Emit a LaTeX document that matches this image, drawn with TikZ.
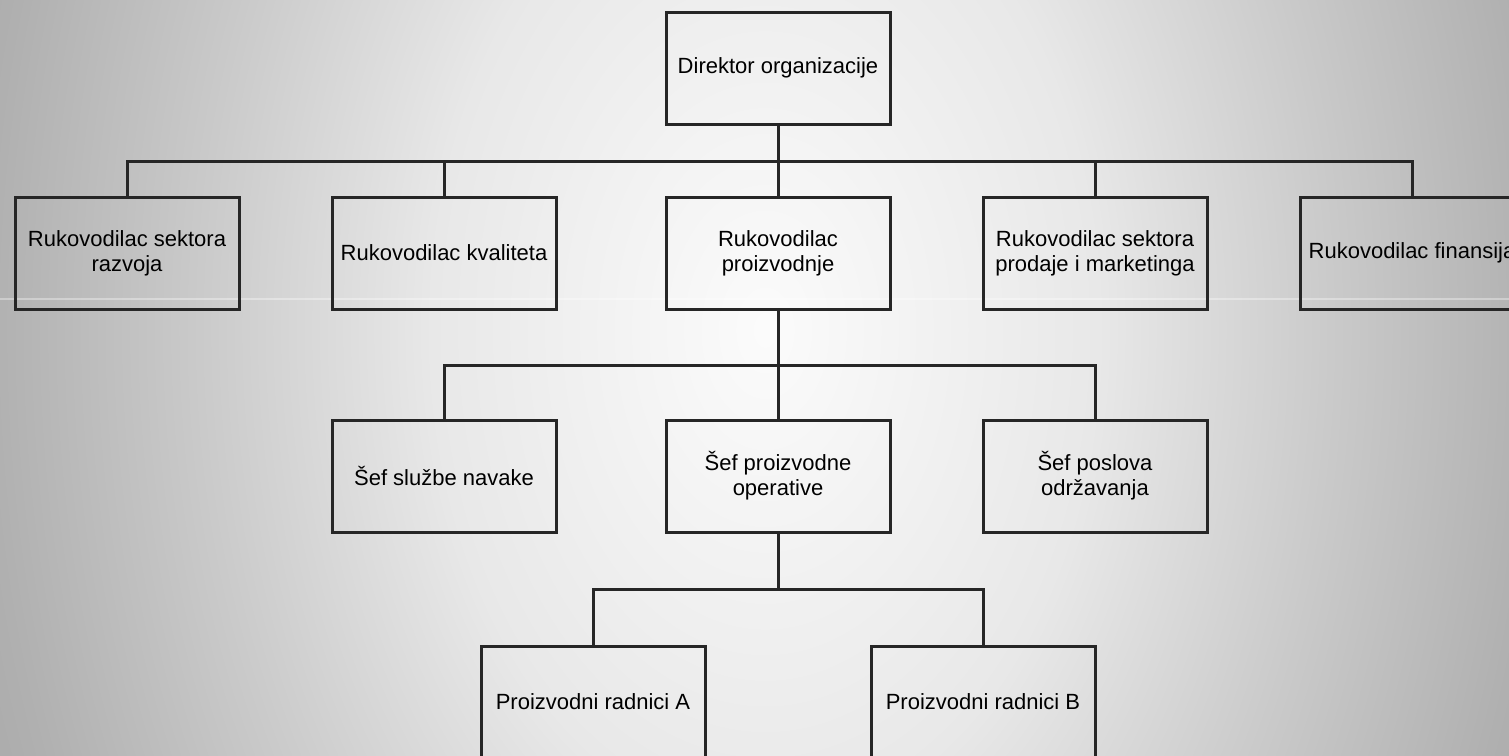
\documentclass[tikz,border=0pt]{standalone}
\usepackage{fontspec}
\setmainfont{Liberation Sans}
% soft light glow behind the chart, fading to grey at the borders
\pgfdeclareradialshading{bgglow}{\pgfpoint{0bp}{0bp}}{%
  rgb(0bp)=(0.985,0.985,0.985);
  rgb(8.75bp)=(0.91,0.91,0.91);
  rgb(15bp)=(0.79,0.79,0.79);
  rgb(20.5bp)=(0.69,0.69,0.69);
  rgb(25bp)=(0.63,0.63,0.63);
  rgb(50bp)=(0.63,0.63,0.63)}
\begin{document}
\begin{tikzpicture}[x=0.5pt,y=-0.5pt,
  orgbox/.style={draw=black!85, line width=1.5pt, minimum width=112pt,
    minimum height=56pt, inner sep=2pt, align=center,
    font=\fontsize{11pt}{12.5pt}\selectfont},
  link/.style={draw=black!85, line width=1.5pt}]
\useasboundingbox (0,0) rectangle (1509,755);
\clip (0,0) rectangle (1509,755);
\fill[black!37] (0,0) rectangle (1509,755);
\shade[shading=bgglow] (765,330) ellipse [x radius=475pt, y radius=700pt];
% faint light streak across the sheet
\draw[white, opacity=0.35, line width=0.6pt] (0,299) -- (1509,299);

% top level
\node[orgbox] (dir) at (778,68) {Direktor organizacije};

% second level
\node[orgbox] (raz) at (127,253) {Rukovodilac sektora\\razvoja};
\node[orgbox] (kva) at (444,253) {Rukovodilac kvaliteta};
\node[orgbox] (pro) at (778,253) {Rukovodilac\\proizvodnje};
\node[orgbox] (prd) at (1095,253) {Rukovodilac sektora\\prodaje i marketinga};
\node[orgbox] (fin) at (1412,253) {Rukovodilac finansija};

% third level
\node[orgbox] (nab) at (444,476) {Šef službe navake};
\node[orgbox] (ope) at (778,476) {Šef proizvodne\\operative};
\node[orgbox] (odr) at (1095,476) {Šef poslova\\održavanja};

% fourth level
\node[orgbox] (ra) at (593,702) {Proizvodni radnici A};
\node[orgbox] (rb) at (983,702) {Proizvodni radnici B};

% connectors
\coordinate (bus1) at (778,161);
\coordinate (bus2) at (778,365);
\coordinate (bus3) at (778,589);
\draw[link] (dir.south) -- (bus1);
\foreach \n in {raz,kva,pro,prd,fin} \draw[link] (bus1) -| (\n.north);
\draw[link] (pro.south) -- (bus2);
\foreach \n in {nab,ope,odr} \draw[link] (bus2) -| (\n.north);
\draw[link] (ope.south) -- (bus3);
\foreach \n in {ra,rb} \draw[link] (bus3) -| (\n.north);
\end{tikzpicture}
\end{document}
